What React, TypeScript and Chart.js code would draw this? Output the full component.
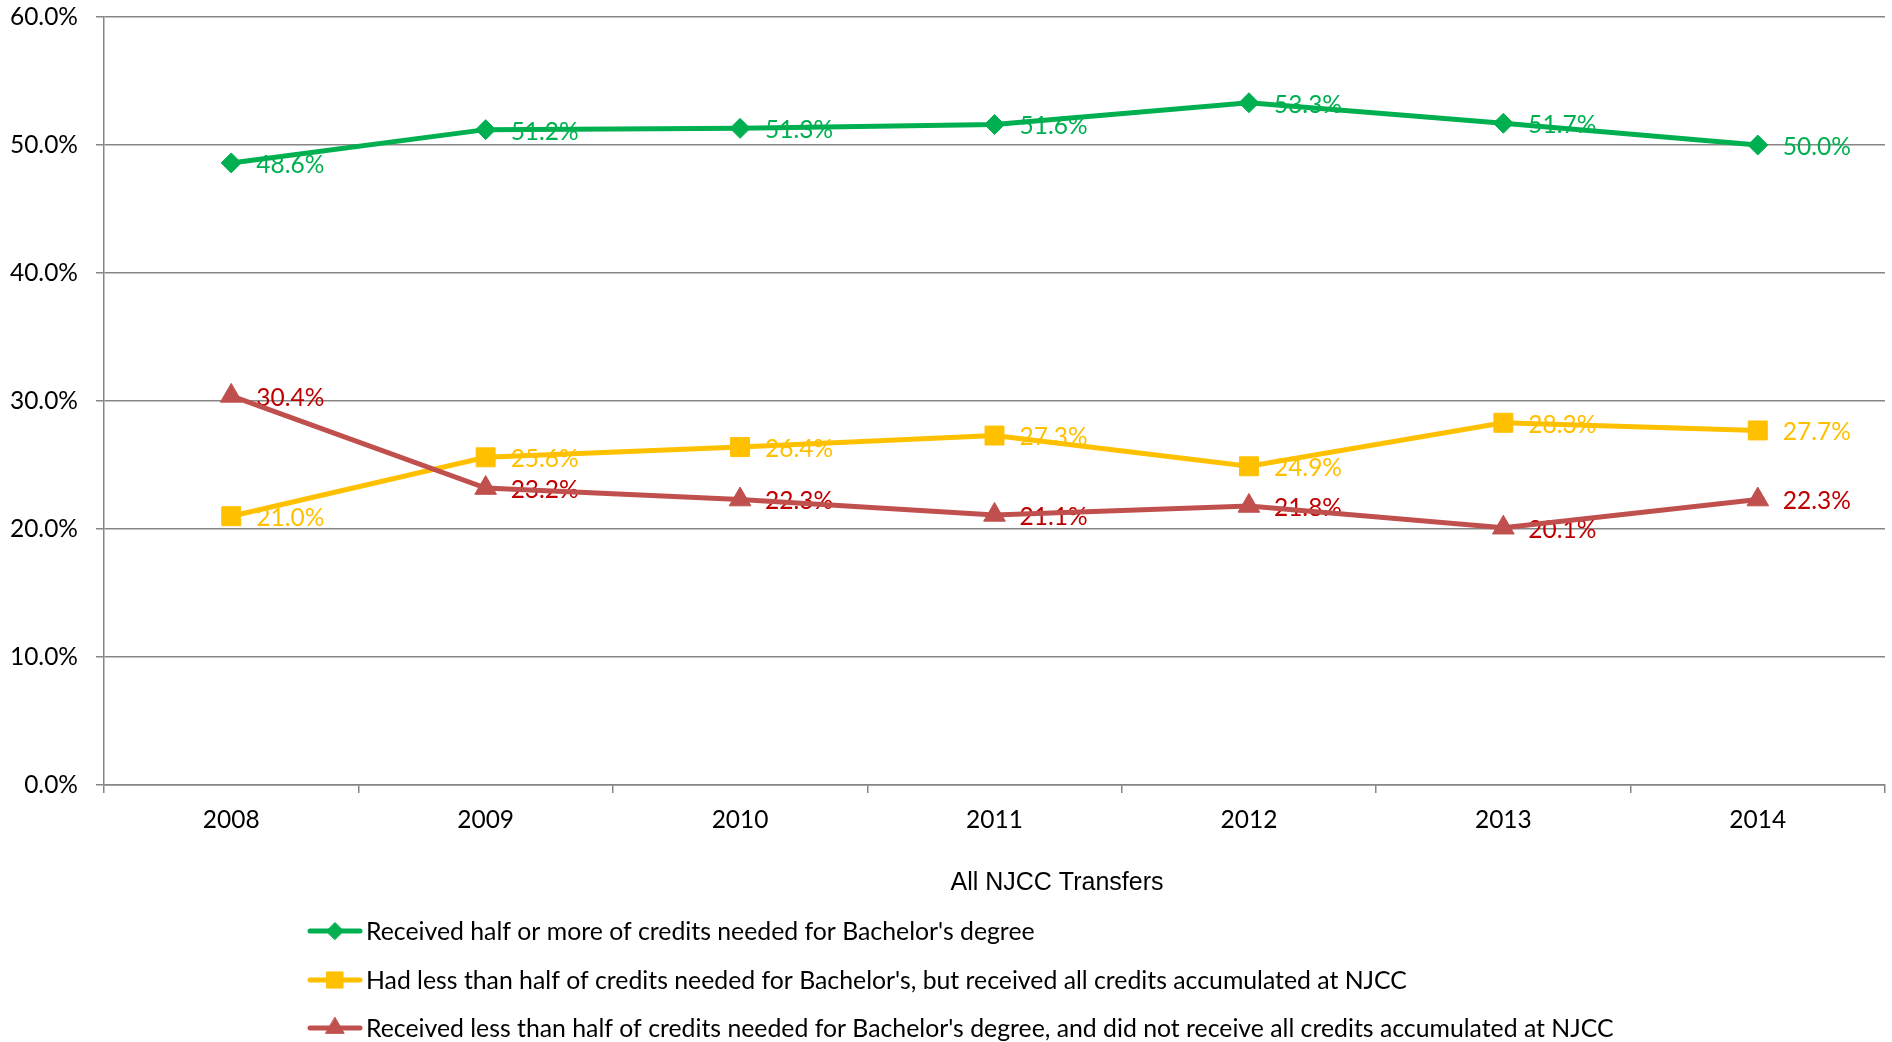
import React, { useEffect, useRef } from 'react';
import { Chart, registerables } from 'chart.js';
import { drawPoint } from 'chart.js/helpers';

Chart.register(...registerables);

const years = ['2008', '2009', '2010', '2011', '2012', '2013', '2014'];
const halfOrMore = [48.6, 51.2, 51.3, 51.6, 53.3, 51.7, 50.0];
const lessAllCredits = [21.0, 25.6, 26.4, 27.3, 24.9, 28.3, 27.7];
const lessNotAll = [30.4, 23.2, 22.3, 21.1, 21.8, 20.1, 22.3];
const seriesNames = [
  "Received half or more of credits needed for Bachelor's degree",
  "Had less than half of credits needed for Bachelor's, but received all credits accumulated at NJCC",
  "Received less than half of credits needed for Bachelor's degree, and did not receive all credits accumulated at NJCC",
];
const yTicks = [0, 10, 20, 30, 40, 50, 60];
const xTitle = 'All NJCC Transfers';

const lineColors = ['#00B050', '#FFC000', '#C0504D'];
const labelColors = ['#00B050', '#FFC000', '#C00000'];
const markerStyles = ['rectRot', 'rect', 'triangle'];
const markerRadii = [10, 13.4, 12.5];
const gridColor = '#868686';
const labelFont = '24.5px Lato';
const legendFont = '24.8px Lato';

const dataLabelPlugin = {
  id: 'dataLabels',
  beforeDatasetsDraw(chart: any) {
    const ctx = chart.ctx;
    chart.data.datasets.forEach((ds: any, i: number) => {
      const meta = chart.getDatasetMeta(i);
      ctx.save();
      ctx.font = labelFont;
      ctx.fillStyle = labelColors[i];
      ctx.textAlign = 'left';
      ctx.textBaseline = 'middle';
      meta.data.forEach((pt: any, j: number) => {
        ctx.fillText(Number(ds.data[j]).toFixed(1) + '%', pt.x + 25, pt.y + 2);
      });
      ctx.restore();
    });
  },
};

const legendPlugin = {
  id: 'customLegend',
  afterDraw(chart: any) {
    const ctx = chart.ctx;
    const rows = [931, 980, 1028];
    ctx.save();
    seriesNames.forEach((name, i) => {
      const y = rows[i];
      ctx.strokeStyle = lineColors[i];
      ctx.lineWidth = 5;
      ctx.lineCap = 'round';
      ctx.beginPath();
      ctx.moveTo(310, y);
      ctx.lineTo(360, y);
      ctx.stroke();
      ctx.fillStyle = lineColors[i];
      ctx.lineWidth = 1;
      drawPoint(ctx, { pointStyle: markerStyles[i] as any, radius: markerRadii[i] * 0.85, rotation: 0, borderWidth: 1 }, 335, y);
      ctx.fillStyle = '#000';
      ctx.font = legendFont;
      ctx.textAlign = 'left';
      ctx.textBaseline = 'middle';
      ctx.fillText(name, 366, y + 1);
    });
    ctx.font = '25px "Liberation Sans"';
    ctx.fillStyle = '#000';
    ctx.textAlign = 'center';
    ctx.textBaseline = 'middle';
    ctx.fillText(xTitle, 1057, 883);
    ctx.restore();
  },
};

export default function App() {
  const ref = useRef<HTMLCanvasElement | null>(null);
  useEffect(() => {
    document.body.style.margin = '0';
    const series = [halfOrMore, lessAllCredits, lessNotAll];
    const chart = new Chart(ref.current as HTMLCanvasElement, {
      type: 'line',
      data: {
        labels: years,
        datasets: series.map((d, i) => ({
          label: seriesNames[i],
          data: d,
          borderColor: lineColors[i],
          backgroundColor: lineColors[i],
          pointBackgroundColor: lineColors[i],
          pointBorderColor: lineColors[i],
          pointStyle: markerStyles[i] as any,
          pointRadius: markerRadii[i],
          pointBorderWidth: 1,
          borderWidth: 5,
          tension: 0,
          fill: false,
          order: 2 - i,
        })),
      },
      options: {
        responsive: false,
        maintainAspectRatio: false,
        animation: false,
        layout: { autoPadding: false, padding: { top: 17, right: 7, left: 0, bottom: 0 } },
        plugins: { legend: { display: false }, tooltip: { enabled: false } },
        scales: {
          x: {
            type: 'category',
            offset: true,
            grid: {
              display: true,
              drawOnChartArea: false,
              drawTicks: true,
              tickLength: 8,
              offset: true,
              color: gridColor,
              lineWidth: 1.5,
            },
            border: { display: true, color: gridColor, width: 1.5 },
            ticks: { color: '#000', font: { family: 'Lato', size: 24.5 }, padding: 12 },
            afterFit: (s: any) => {
              s.height = 1042 - 785;
              s.paddingLeft = 0;
              s.paddingRight = 0;
            },
          },
          y: {
            min: 0,
            max: 60,
            afterBuildTicks: (s: any) => {
              s.ticks = yTicks.map((v) => ({ value: v }));
            },
            ticks: {
              color: '#000',
              font: { family: 'Lato', size: 24.5 },
              padding: 18,
              callback: (v: any) => Number(v).toFixed(1) + '%',
            },
            grid: { color: gridColor, lineWidth: 1.5, tickLength: 8, drawTicks: true },
            border: { display: true, color: gridColor, width: 1.5 },
            afterFit: (s: any) => {
              s.width = 104;
              s.paddingTop = 0;
              s.paddingBottom = 0;
            },
          },
        },
      },
      plugins: [dataLabelPlugin, legendPlugin],
    });
    return () => chart.destroy();
  }, []);
  return (
    <div style={{ width: 1892, height: 1042 }}>
      <canvas ref={ref} width={1892} height={1042} style={{ display: 'block' }} />
    </div>
  );
}
